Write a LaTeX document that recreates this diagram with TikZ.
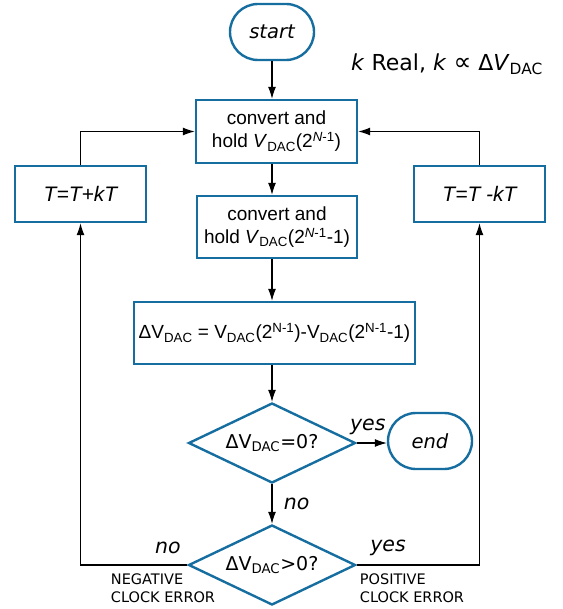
\documentclass[tikz,border=0pt]{standalone}
\usepackage{fontspec}
\setmainfont{Liberation Sans}
\newfontfamily\djv{DejaVu Sans}
\usetikzlibrary{shapes.geometric,arrows.meta,positioning}
\definecolor{flowblue}{RGB}{22,110,160}
\newcommand{\dac}{\textsubscript{DAC}}

\tikzset{
  blk/.style={draw=flowblue, line width=2.4pt, align=center, inner sep=0pt,
    font=\fontsize{19}{23}\selectfont},
  term/.style={draw=flowblue, line width=2.4pt, rounded corners=28pt,
    minimum width=84pt, minimum height=56pt, font=\djv\itshape\fontsize{19.5}{23}\selectfont},
  test/.style={diamond, aspect=2, draw=flowblue, line width=2.4pt, inner sep=0pt,
    minimum width=167pt, minimum height=80pt, font=\djv\fontsize{19}{23}\selectfont},
  conn/.style={line width=1.1pt, -{Latex[length=12pt,width=8pt]}},
  lbl/.style={font=\djv\itshape\fontsize{20.5}{24}\selectfont},
  err/.style={align=left, font=\djv\fontsize{14.5}{17.5}\selectfont},
}

\begin{document}
\begin{tikzpicture}[x=1pt,y=-1pt]
  \useasboundingbox (0,0) rectangle (562,609);

  \node[term] (start) at (272,32) {start};
  \node[font=\djv\fontsize{22}{26}\selectfont] (note) at (447,64)
    {\textit{k} Real, \textit{k} {\fontsize{25}{26}\selectfont ∝} Δ\textit{V}\dac};

  \node[blk, minimum width=161pt, minimum height=63pt] (hold1) at (276.5,131.5)
    {convert and\\hold \textit{V}\dac(2\textsuperscript{\textit{N}-1})};
  \node[blk, minimum width=160pt, minimum height=62pt] (hold2) at (277,227)
    {convert and\\hold \textit{V}\dac(2\textsuperscript{\textit{N}-1}-1)};
  \node[blk, minimum width=281pt, minimum height=62pt] (diff) at (274.5,333)
    {ΔV\dac{} = V\dac(2\textsuperscript{N-1})-V\dac(2\textsuperscript{N-1}-1)};

  \node[test] (zero) at (272,443) {ΔV\dac=0?};
  \node[term] (end) at (430,441) {end};
  \node[test] (sign) at (272,565) {ΔV\dac>0?};

  \node[blk, minimum width=131pt, minimum height=56pt, font=\itshape\fontsize{21}{25}\selectfont]
    (neg) at (80.5,194) {T=T+kT};
  \node[blk, minimum width=131pt, minimum height=56pt, font=\itshape\fontsize{21}{25}\selectfont]
    (pos) at (479.5,194) {T=T -kT};

  % main column
  \draw[conn] (start.south) -- (start.south |- hold1.north);
  \draw[conn] (start.south |- hold1.south) -- (start.south |- hold2.north);
  \draw[conn] (start.south |- hold2.south) -- (start.south |- diff.north);
  \draw[conn] (start.south |- diff.south) -- (zero.north);
  \draw[conn] (zero.east) -- (zero.east -| end.west)
    node[lbl, midway, above=4pt, xshift=-4pt] {yes};
  \draw[conn] (zero.south) -- (sign.north)
    node[lbl, midway, right=8pt] {no};

  % feedback loops
  \draw[conn] (sign.west) -| (neg.south);
  \draw[conn] (neg.north) |- (hold1.west);
  \draw[conn] (sign.east) -| (pos.south);
  \draw[conn] (pos.north) |- (hold1.east);

  \node[lbl] (nolbl) at (168,548) {no};
  \node[lbl] (yeslbl) at (388,548) {yes};
  \node[err] (negerr) at (163,588) {NEGATIVE\\CLOCK ERROR};
  \node[err] (poserr) at (412,588) {POSITIVE\\CLOCK ERROR};
\end{tikzpicture}
\end{document}
